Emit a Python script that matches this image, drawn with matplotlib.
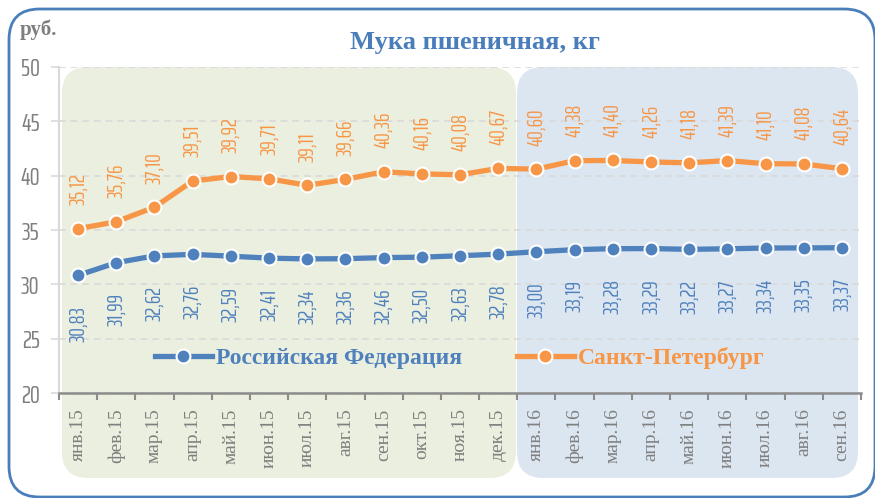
import matplotlib
matplotlib.use("Agg")
import matplotlib.pyplot as plt
from matplotlib.patches import FancyBboxPatch
from matplotlib.lines import Line2D
from matplotlib import font_manager as fm

categories = ["янв.15", "фев.15", "мар.15", "апр.15", "май.15", "июн.15", "июл.15",
              "авг.15", "сен.15", "окт.15", "ноя.15", "дек.15",
              "янв.16", "фев.16", "мар.16", "апр.16", "май.16", "июн.16", "июл.16",
              "авг.16", "сен.16"]
rf_values = [30.83, 31.99, 32.62, 32.76, 32.59, 32.41, 32.34, 32.36, 32.46, 32.50,
             32.63, 32.78, 33.00, 33.19, 33.28, 33.29, 33.22, 33.27, 33.34, 33.35, 33.37]
spb_values = [35.12, 35.76, 37.10, 39.51, 39.92, 39.71, 39.11, 39.66, 40.36, 40.16,
              40.08, 40.67, 40.60, 41.38, 41.40, 41.26, 41.18, 41.39, 41.10, 41.08, 40.64]
series_names = ["Российская Федерация", "Санкт-Петербург"]
y_ticks = [20, 25, 30, 35, 40, 45, 50]

W, H = 875, 498
BLUE = "#4f81bd"
ORANGE = "#f79646"
GRAY = "#7f7f7f"

installed = {f.name for f in fm.fontManager.ttflist}
narrow_pref = ["Agency FB", "Saira Extra Condensed", "Saira ExtraCondensed", "Pathway Gothic One",
               "Antonio", "Oswald", "Roboto Condensed", "Barlow Condensed", "DejaVu Sans"]
NARROW = [f for f in narrow_pref if f in installed] or ["DejaVu Sans"]
NARROW_NAME = NARROW[0]
SERIF = ["Liberation Serif", "DejaVu Serif"]

fig = plt.figure(figsize=(W / 100, H / 100), dpi=100)
fig.patch.set_facecolor("white")

def px_box(x0, y0, x1, y1, **kw):
    return FancyBboxPatch((x0 / W, 1 - y1 / H), (x1 - x0) / W, (y1 - y0) / H,
                          transform=fig.transFigure, **kw)

fig.patches.append(px_box(62, 67, 516, 478, boxstyle="round,pad=0,rounding_size=0.03",
                          facecolor="#ebefdf", edgecolor="none", zorder=0, mutation_aspect=W / H))
fig.patches.append(px_box(517, 67, 858, 478, boxstyle="round,pad=0,rounding_size=0.03",
                          facecolor="#dce6f1", edgecolor="none", zorder=0, mutation_aspect=W / H))
fig.patches.append(px_box(9, 9, 875, 497, boxstyle="round,pad=0,rounding_size=0.035",
                          facecolor="none", edgecolor="#4a7ebb", linewidth=2, zorder=0,
                          mutation_aspect=W / H))

ax = fig.add_axes([59 / W, 1 - 393 / H, (861 - 59) / W, (393 - 67) / H])
ax.set_facecolor("none")
ax.set_zorder(2)

x = list(range(len(categories)))
ax.plot(x, rf_values, color=BLUE, lw=3.8, marker="o", ms=10, mfc=BLUE, mec="white",
        mew=1.5, zorder=4, solid_capstyle="round")
ax.plot(x, spb_values, color=ORANGE, lw=3.8, marker="o", ms=10, mfc=ORANGE, mec="white",
        mew=1.5, zorder=4, solid_capstyle="round")

for xi, v in zip(x, spb_values):
    ax.annotate(f"{v:.2f}".replace(".", ","), (xi, v), xytext=(0, 17), textcoords="offset points",
                rotation=90, ha="center", va="bottom", color=ORANGE, fontsize=15.5,
                family=NARROW_NAME)
for xi, v in zip(x, rf_values):
    ax.annotate(f"{v:.2f}".replace(".", ","), (xi, v), xytext=(0, -22), textcoords="offset points",
                rotation=90, ha="center", va="top", color=BLUE, fontsize=15.5,
                family=NARROW_NAME)

ax.set_xlim(-0.5, len(categories) - 0.5)
ax.set_ylim(20, 50)
ax.set_yticks(y_ticks)
ax.set_yticklabels([str(t) for t in y_ticks], family=NARROW_NAME, fontsize=18, color=GRAY)
ax.tick_params(axis="y", length=6, color="#d9d9d9", width=1.2, pad=8)

ax.set_xticks(x)
ax.set_xticklabels(categories, rotation=90, family=SERIF, fontsize=14, color=GRAY)
ax.tick_params(axis="x", which="major", length=0, pad=11)
ax.set_xticks([i - 0.5 for i in range(len(categories) + 1)], minor=True)
ax.tick_params(axis="x", which="minor", length=5, color="#8c8c8c", width=1.5, direction="out")

ax.grid(axis="y", color="#d9d9d9", lw=1.2, linestyle=(0, (4, 3)), zorder=1)
ax.set_axisbelow(True)
for s in ["top", "right"]:
    ax.spines[s].set_visible(False)
ax.spines["left"].set_color("#d9d9d9")
ax.spines["left"].set_linewidth(1.5)
ax.spines["bottom"].set_color("#8c8c8c")
ax.spines["bottom"].set_linewidth(1.8)

handles = [Line2D([], [], color=BLUE, lw=3.8, marker="o", ms=10, mfc=BLUE, mec="white", mew=1.5),
           Line2D([], [], color=ORANGE, lw=3.8, marker="o", ms=10, mfc=ORANGE, mec="white", mew=1.5)]
leg = ax.legend(handles, series_names, loc="center", bbox_to_anchor=(0.5, 0.107), ncol=2,
                frameon=False, prop={"family": SERIF, "weight": "bold", "size": 17},
                labelcolor=[BLUE, ORANGE], handlelength=2.4, handletextpad=0.2,
                columnspacing=2.3)

fig.text(475 / W, 1 - 42 / H, "Мука пшеничная, кг", ha="center", va="center",
         family=SERIF, weight="bold", fontsize=19, color="#4a7ebb")
fig.text(20 / W, 1 - 30 / H, "руб.", ha="left", va="center", family=SERIF,
         weight="bold", fontsize=15, color=GRAY)

fig.savefig("out.png", dpi=100)
